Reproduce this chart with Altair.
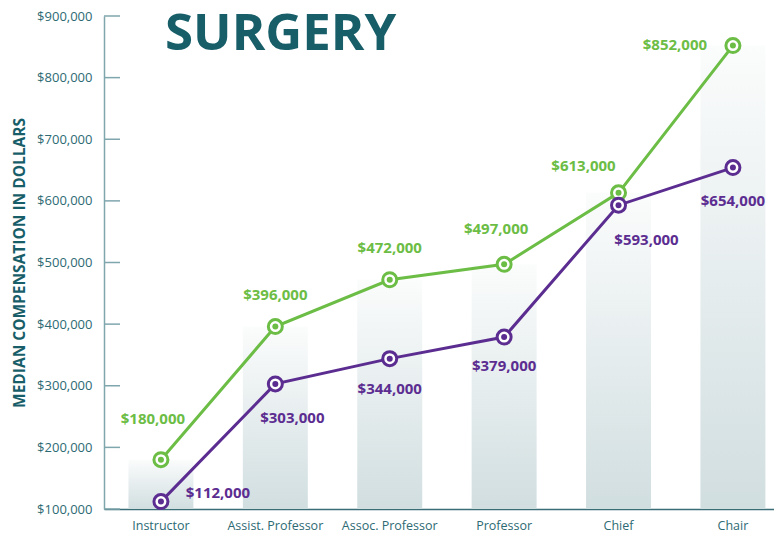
import altair as alt
import pandas as pd

# ---- data ----
categories = ["Instructor", "Assist. Professor", "Assoc. Professor", "Professor", "Chief", "Chair"]
green_values = [180000, 396000, 472000, 497000, 613000, 852000]
purple_values = [112000, 303000, 344000, 379000, 593000, 654000]
bar_values = [180000, 396000, 472000, 497000, 613000, 852000]
y_ticks = [100000, 200000, 300000, 400000, 500000, 600000, 700000, 800000, 900000]
chart_title = "SURGERY"
y_title = "MEDIAN COMPENSATION IN DOLLARS"

# ---- styles ----
GREEN = "#6cbd45"
PURPLE = "#5c2d91"
TEAL = "#175e69"
LABEL = "#2d6a73"
YDOMAIN = "#7fa6ad"
XDOMAIN = "#3b6d77"
FONT = "Open Sans"
green_offsets = [(-8, -41), (0, -32), (0, -32), (-8, -35), (-35, -27), (-58, -1)]
purple_offsets = [(57, -9), (17, 34), (0, 30), (0, 29), (28, 35), (0, 33)]


def money(v):
    return "$" + f"{v:,}"


df_bar = pd.DataFrame({"category": categories, "value": bar_values})
df_green = pd.DataFrame({"category": categories, "value": green_values,
                         "label": [money(v) for v in green_values]})
df_purple = pd.DataFrame({"category": categories, "value": purple_values,
                          "label": [money(v) for v in purple_values]})
df_ticks = pd.DataFrame({"value": y_ticks})
df_title = pd.DataFrame({"title": [chart_title]})

x_scale = alt.Scale(domain=categories, paddingInner=0.432, paddingOuter=0.1444, align=0.74)
y_scale = alt.Scale(domain=[100000, 900000], zero=False, nice=False)

x_enc = alt.X("category:N", scale=x_scale, sort=categories,
              axis=alt.Axis(title=None, labelAngle=0, ticks=False, tickSize=0,
                            labelPadding=10, labelFont=FONT, labelFontSize=12.5,
                            labelColor=LABEL, domainColor=XDOMAIN, domainWidth=1.5,
                            grid=False))

y_enc = alt.Y("value:Q", scale=y_scale,
              axis=alt.Axis(values=y_ticks, format="$,.0f", ticks=False, tickSize=0,
                            labelPadding=12, labelFont=FONT, labelFontSize=13,
                            labelColor=LABEL, domainColor=YDOMAIN, domainWidth=1.5,
                            grid=False, title=y_title, titleFont=FONT,
                            titleFontSize=15.5, titleFontWeight="bold",
                            titleColor=TEAL, titlePadding=9))

gradient = alt.Gradient(
    gradient="linear",
    stops=[alt.GradientStop(color="#fbfcfc", offset=0),
           alt.GradientStop(color="#d1dee0", offset=1)],
    x1=0, x2=0, y1=0, y2=1,
)

bars = alt.Chart(df_bar).mark_bar(color=gradient).encode(
    x=x_enc, y=y_enc, y2=alt.datum(100000)
)

ticks = alt.Chart(df_ticks).mark_rule(color=YDOMAIN, strokeWidth=1.5).encode(
    y=y_enc, x=alt.value(0), x2=alt.value(16)
)

green_line = alt.Chart(df_green).mark_line(color=GREEN, strokeWidth=3).encode(x=x_enc, y=y_enc)
purple_line = alt.Chart(df_purple).mark_line(color=PURPLE, strokeWidth=3).encode(x=x_enc, y=y_enc)

green_ring = alt.Chart(df_green).mark_point(shape="circle", size=196, filled=False, fill="white",
                                            stroke=GREEN, strokeWidth=3, opacity=1).encode(x=x_enc, y=y_enc)
green_dot = alt.Chart(df_green).mark_point(shape="circle", size=36, filled=True, color=GREEN,
                                           opacity=1).encode(x=x_enc, y=y_enc)
purple_ring = alt.Chart(df_purple).mark_point(shape="circle", size=196, filled=False, fill="white",
                                              stroke=PURPLE, strokeWidth=3, opacity=1).encode(x=x_enc, y=y_enc)
purple_dot = alt.Chart(df_purple).mark_point(shape="circle", size=36, filled=True, color=PURPLE,
                                             opacity=1).encode(x=x_enc, y=y_enc)

label_layers = []
for df, offs, col in [(df_green, green_offsets, GREEN), (df_purple, purple_offsets, PURPLE)]:
    for i, (dx, dy) in enumerate(offs):
        label_layers.append(
            alt.Chart(df.iloc[[i]]).mark_text(
                dx=dx, dy=dy, fontSize=15, fontWeight="bold", font=FONT, color=col,
                align="center", baseline="middle"
            ).encode(x=x_enc, y=y_enc, text="label:N")
        )

title = alt.Chart(df_title).mark_text(
    align="left", baseline="alphabetic", fontSize=51, fontWeight="bold", font=FONT, color=TEAL
).encode(x=alt.value(61), y=alt.value(34), text="title:N")

chart = alt.layer(
    bars, ticks, green_line, purple_line, green_ring, green_dot, purple_ring, purple_dot,
    *label_layers, title
).properties(
    width=670, height=493,
    autosize=alt.AutoSizeParams(type="none"),
    padding={"left": 96, "top": 8, "right": 0, "bottom": 23},
).configure_view(stroke=None)

chart.save("out.html", embed_options={"renderer": "svg", "actions": False})
